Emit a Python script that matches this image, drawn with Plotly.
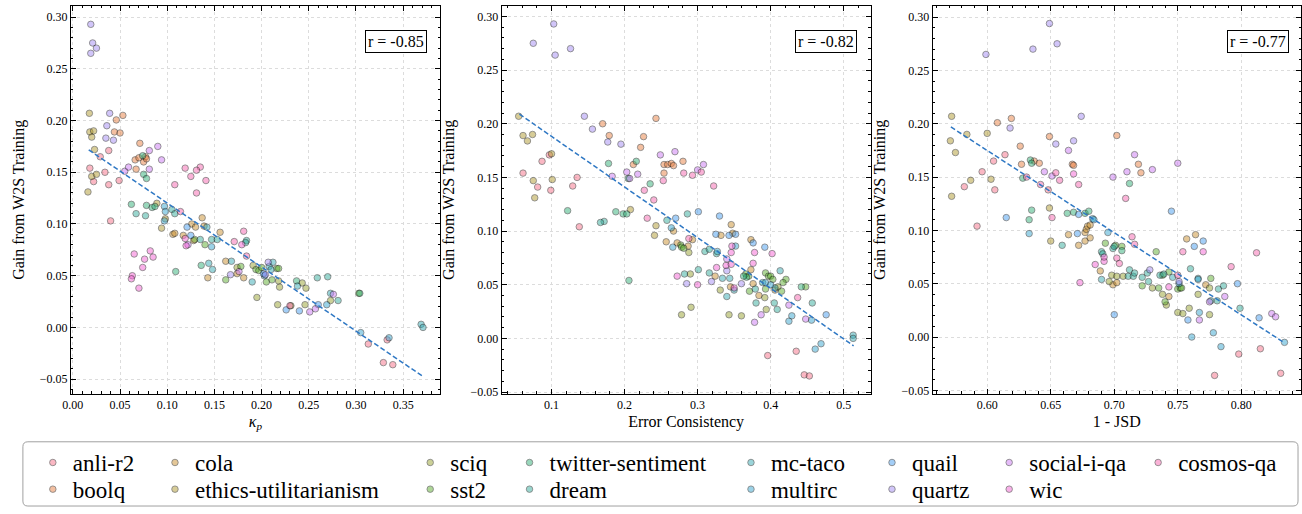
import plotly.graph_objects as go

# ---------------- data ----------------
datasets = ["anli-r2", "boolq", "cola", "ethics-utilitarianism", "sciq", "sst2",
            "twitter-sentiment", "dream", "mc-taco", "multirc", "quail", "quartz",
            "social-i-qa", "wic", "cosmos-qa"]

colors = ["#f77189", "#e98143", "#ca9131", "#b19b31", "#98a231", "#5fae31",
          "#33b07a", "#35ad9c", "#37abb4", "#39a7d0", "#4a9ff0", "#a48cf4",
          "#cc7af4", "#f564d4", "#f668b0"]

r_values = [-0.85, -0.82, -0.77]
x_titles = ["<i>κ<sub>p</sub></i>", "Error Consistency", "1 - JSD"]

# Panel 1: kappa_p vs gain
kappa_anli_r2 = [(0.038,0.171),(0.029,0.165),(0.018,0.154),(0.034,0.150),(0.022,0.141),(0.049,0.142),(0.038,0.138),(0.040,0.103),(0.313,-0.016),(0.333,-0.012),(0.329,-0.034),(0.339,-0.036)]
kappa_boolq = [(0.053,0.205),(0.046,0.2006),(0.044,0.189),(0.050,0.188),(0.071,0.178),(0.066,0.162),(0.070,0.164),(0.075,0.160),(0.077,0.165),(0.078,0.163),(0.067,0.153)]
kappa_cola = [(0.106,0.090),(0.108,0.091),(0.137,0.106),(0.126,0.100),(0.130,0.097),(0.139,0.098),(0.156,0.092),(0.117,0.089),(0.128,0.084),(0.143,0.048),(0.162,0.064),(0.174,0.052),(0.181,0.048)]
kappa_ethics = [(0.0175,0.207),(0.018,0.189),(0.022,0.190),(0.020,0.184),(0.023,0.172),(0.020,0.146),(0.025,0.148),(0.016,0.131),(0.089,0.120),(0.094,0.096),(0.098,0.105)]
kappa_sciq = [(0.195,0.029),(0.219,0.039),(0.217,0.022),(0.231,0.021),(0.243,0.043),(0.247,0.038),(0.246,0.022),(0.273,0.026),(0.174,0.058),(0.191,0.060),(0.218,0.045)]
kappa_sst2 = [(0.129,0.085),(0.140,0.080),(0.162,0.046),(0.178,0.059),(0.194,0.056),(0.197,0.055),(0.200,0.058),(0.205,0.044),(0.216,0.057),(0.218,0.057),(0.211,0.046),(0.303,0.033)]
kappa_twitter = [(0.074,0.166),(0.075,0.148),(0.078,0.144),(0.062,0.119),(0.078,0.118),(0.084,0.116),(0.087,0.117),(0.109,0.054),(0.136,0.060),(0.237,0.045),(0.304,0.033)]
kappa_dream = [(0.067,0.110),(0.077,0.108),(0.105,0.114),(0.108,0.110),(0.135,0.085),(0.147,0.085),(0.153,0.085),(0.259,0.048),(0.270,0.049),(0.281,0.026),(0.184,0.084),(0.183,0.082)]
kappa_mc_taco = [(0.142,0.097),(0.144,0.062),(0.148,0.056),(0.168,0.064),(0.190,0.044),(0.208,0.059),(0.210,0.056),(0.212,0.063),(0.238,0.040),(0.273,0.033),(0.369,0.003),(0.371,0.000)]
kappa_multirc = [(0.097,0.117),(0.098,0.112),(0.097,0.103),(0.147,0.078),(0.203,0.050),(0.305,-0.005),(0.335,-0.010),(0.269,0.022)]
kappa_quail = [(0.121,0.097),(0.125,0.089),(0.202,0.052),(0.226,0.017),(0.240,0.016),(0.260,0.022)]
kappa_quartz = [(0.019,0.293),(0.021,0.275),(0.025,0.270),(0.019,0.265),(0.039,0.207),(0.036,0.195),(0.035,0.183),(0.043,0.181),(0.167,0.051),(0.207,0.063),(0.204,0.051)]
kappa_social = [(0.090,0.175),(0.081,0.171),(0.094,0.162),(0.081,0.153),(0.055,0.151),(0.059,0.155),(0.176,0.054),(0.251,0.015),(0.257,0.018),(0.276,0.032),(0.122,0.080)]
kappa_wic = [(0.065,0.071),(0.076,0.066),(0.082,0.074),(0.085,0.068),(0.074,0.058),(0.070,0.038),(0.063,0.050),(0.062,0.047),(0.119,0.086),(0.120,0.079),(0.179,0.080)]
kappa_cosmos = [(0.119,0.154),(0.135,0.155),(0.131,0.152),(0.125,0.146),(0.141,0.142),(0.108,0.138),(0.131,0.130),(0.114,0.112),(0.181,0.093),(0.171,0.083),(0.184,0.069),(0.230,0.021)]

# Panel 2: error consistency vs gain
ec_anli_r2 = [(0.097,0.171),(0.087,0.165),(0.061,0.154),(0.135,0.150),(0.129,0.142),(0.081,0.141),(0.099,0.138),(0.138,0.104),(0.435,-0.012),(0.396,-0.016),(0.446,-0.034),(0.453,-0.035)]
ec_boolq = [(0.243,0.205),(0.170,0.200),(0.179,0.189),(0.226,0.188),(0.222,0.178),(0.280,0.165),(0.212,0.162),(0.254,0.162),(0.259,0.162),(0.264,0.163),(0.267,0.161),(0.254,0.154)]
ec_cola = [(0.346,0.106),(0.267,0.100),(0.332,0.096),(0.348,0.098),(0.373,0.092),(0.257,0.090),(0.272,0.089),(0.287,0.086),(0.293,0.092),(0.324,0.058),(0.345,0.048),(0.373,0.064),(0.376,0.051),(0.384,0.040),(0.406,0.045)]
ec_ethics = [(0.055,0.207),(0.061,0.189),(0.074,0.190),(0.067,0.184),(0.100,0.172),(0.101,0.148),(0.075,0.147),(0.077,0.131),(0.208,0.120),(0.241,0.096),(0.243,0.105)]
ec_sciq = [(0.288,0.080),(0.290,0.060),(0.331,0.045),(0.392,0.038),(0.278,0.022),(0.291,0.029),(0.343,0.022),(0.360,0.021),(0.394,0.027),(0.410,0.048)]
ec_sst2 = [(0.277,0.087),(0.278,0.085),(0.281,0.084),(0.366,0.060),(0.370,0.058),(0.393,0.061),(0.397,0.058),(0.400,0.058),(0.403,0.055),(0.421,0.055),(0.417,0.052),(0.371,0.044),(0.393,0.046),(0.415,0.044),(0.448,0.048)]
ec_twitter = [(0.216,0.165),(0.178,0.163),(0.235,0.144),(0.205,0.149),(0.122,0.119),(0.188,0.118),(0.198,0.116),(0.203,0.116),(0.206,0.054),(0.442,0.048),(0.367,0.057),(0.363,0.058)]
ec_dream = [(0.172,0.109),(0.167,0.108),(0.258,0.110),(0.286,0.116),(0.310,0.081),(0.316,0.083),(0.326,0.079),(0.301,0.064),(0.316,0.061),(0.282,0.060),(0.379,0.046),(0.380,0.033),(0.405,0.033),(0.457,0.033),(0.409,0.027)]
ec_mc_taco = [(0.334,0.056),(0.344,0.056),(0.350,0.045),(0.340,0.039),(0.389,0.052),(0.413,0.063),(0.406,0.047),(0.513,0.003),(0.513,0.000)]
ec_multirc = [(0.264,0.103),(0.266,0.085),(0.352,0.086),(0.327,0.081),(0.393,0.052),(0.400,0.050),(0.429,0.021),(0.425,0.016),(0.456,0.017),(0.469,-0.005),(0.461,-0.010)]
ec_quail = [(0.301,0.118),(0.330,0.114),(0.270,0.112),(0.325,0.097),(0.343,0.096),(0.352,0.097),(0.376,0.089),(0.392,0.085),(0.476,0.022)]
ec_quartz = [(0.103,0.293),(0.075,0.275),(0.126,0.270),(0.105,0.264),(0.145,0.207),(0.156,0.195),(0.177,0.183),(0.195,0.181),(0.340,0.063),(0.285,0.051),(0.319,0.053),(0.360,0.051)]
ec_social = [(0.269,0.174),(0.249,0.171),(0.308,0.162),(0.203,0.155),(0.218,0.153),(0.300,0.157),(0.183,0.151),(0.207,0.149),(0.340,0.074),(0.425,0.031),(0.387,0.022),(0.378,0.015),(0.448,0.018)]
ec_wic = [(0.346,0.080),(0.378,0.080),(0.339,0.068),(0.326,0.066),(0.376,0.070),(0.300,0.050),(0.272,0.058),(0.350,0.047),(0.347,0.086),(0.346,0.069),(0.402,0.079)]
ec_cosmos = [(0.281,0.154),(0.305,0.155),(0.293,0.152),(0.253,0.147),(0.322,0.142),(0.227,0.138),(0.240,0.129),(0.231,0.112),(0.288,0.093),(0.437,0.038)]

# Panel 3: 1 - JSD vs gain
jsd_anli_r2 = [(0.614,0.171),(0.605,0.165),(0.596,0.155),(0.582,0.141),(0.606,0.138),(0.648,0.138),(0.592,0.104),(0.779,-0.036),(0.798,-0.016),(0.815,-0.011),(0.831,-0.034)]
jsd_boolq = [(0.619,0.205),(0.608,0.201),(0.649,0.188),(0.702,0.189),(0.626,0.179),(0.637,0.165),(0.641,0.163),(0.627,0.162),(0.667,0.162),(0.668,0.161),(0.719,0.162),(0.721,0.154)]
jsd_cola = [(0.664,0.096),(0.672,0.086),(0.677,0.098),(0.678,0.101),(0.679,0.104),(0.681,0.105),(0.677,0.090),(0.681,0.093),(0.689,0.062),(0.699,0.049),(0.702,0.051),(0.743,0.038),(0.757,0.092),(0.764,0.096),(0.772,0.049)]
jsd_ethics = [(0.572,0.207),(0.584,0.190),(0.600,0.191),(0.571,0.184),(0.575,0.173),(0.603,0.148),(0.587,0.147),(0.572,0.132),(0.649,0.121),(0.650,0.090)]
jsd_sciq = [(0.696,0.052),(0.698,0.058),(0.702,0.057),(0.707,0.057),(0.730,0.046),(0.738,0.040),(0.741,0.030),(0.750,0.023),(0.754,0.022),(0.759,0.027),(0.766,0.040),(0.775,0.046),(0.775,0.021)]
jsd_sst2 = [(0.693,0.088),(0.701,0.086),(0.706,0.085),(0.733,0.080),(0.722,0.048),(0.735,0.046),(0.738,0.058),(0.743,0.061),(0.740,0.033),(0.750,0.045),(0.752,0.046),(0.753,0.046),(0.776,0.055)]
jsd_twitter = [(0.634,0.166),(0.635,0.163),(0.628,0.149),(0.712,0.144),(0.635,0.119),(0.633,0.110),(0.663,0.116),(0.668,0.117),(0.677,0.116),(0.680,0.118),(0.706,0.081)]
jsd_dream = [(0.659,0.086),(0.690,0.080),(0.691,0.078),(0.699,0.083),(0.700,0.085),(0.711,0.057),(0.712,0.063),(0.715,0.057),(0.716,0.060),(0.722,0.056),(0.726,0.060),(0.727,0.052),(0.736,0.058),(0.739,0.059),(0.760,0.064),(0.781,0.034),(0.782,0.045),(0.786,0.048),(0.799,0.027),(0.776,0.034)]
jsd_mc_taco = [(0.690,0.054),(0.746,0.056),(0.766,0.055)]
jsd_multirc = [(0.633,0.097),(0.683,0.111),(0.684,0.110),(0.695,0.098),(0.751,0.050),(0.766,0.054),(0.767,0.023),(0.778,0.004),(0.784,-0.009),(0.834,-0.005),(0.761,0.000)]
jsd_quail = [(0.615,0.112),(0.672,0.115),(0.671,0.097),(0.700,0.021),(0.745,0.118),(0.758,0.016),(0.763,0.085),(0.770,0.090),(0.797,0.050),(0.814,0.018)]
jsd_quartz = [(0.649,0.294),(0.655,0.275),(0.636,0.270),(0.599,0.265),(0.674,0.207),(0.618,0.196),(0.668,0.184),(0.654,0.181),(0.728,0.063),(0.751,0.052)]
jsd_social = [(0.664,0.175),(0.716,0.171),(0.750,0.163),(0.730,0.157),(0.710,0.155),(0.645,0.155),(0.651,0.151),(0.699,0.150),(0.767,0.016),(0.775,0.033),(0.787,0.038),(0.824,0.022),(0.827,0.019)]
jsd_wic = [(0.668,0.153),(0.685,0.068),(0.692,0.071),(0.692,0.075),(0.673,0.051),(0.743,0.047),(0.770,0.080)]
jsd_cosmos = [(0.654,0.154),(0.631,0.150),(0.657,0.147),(0.642,0.143),(0.672,0.143),(0.709,0.130),(0.651,0.112),(0.714,0.094),(0.716,0.087),(0.754,0.080),(0.792,0.066),(0.812,0.079),(0.750,0.058),(0.702,0.074),(0.704,0.069)]

# regression lines (end points)
fit_kappa_x = [0.0168, 0.371]
fit_kappa_y = [0.1717, -0.0474]
fit_ec_x = [0.056, 0.5136]
fit_ec_y = [0.209, -0.0069]
fit_jsd_x = [0.5714, 0.8338]
fit_jsd_y = [0.197, -0.0053]

panel_kappa = [kappa_anli_r2, kappa_boolq, kappa_cola, kappa_ethics, kappa_sciq, kappa_sst2, kappa_twitter,
               kappa_dream, kappa_mc_taco, kappa_multirc, kappa_quail, kappa_quartz, kappa_social, kappa_wic, kappa_cosmos]
panel_ec = [ec_anli_r2, ec_boolq, ec_cola, ec_ethics, ec_sciq, ec_sst2, ec_twitter,
            ec_dream, ec_mc_taco, ec_multirc, ec_quail, ec_quartz, ec_social, ec_wic, ec_cosmos]
panel_jsd = [jsd_anli_r2, jsd_boolq, jsd_cola, jsd_ethics, jsd_sciq, jsd_sst2, jsd_twitter,
             jsd_dream, jsd_mc_taco, jsd_multirc, jsd_quail, jsd_quartz, jsd_social, jsd_wic, jsd_cosmos]

# ---------------- layout geometry ----------------
W, H = 1302, 514
FONT = "Liberation Serif, Times New Roman, Times, DejaVu Serif, serif"
panels = [panel_kappa, panel_ec, panel_jsd]
fits = [(fit_kappa_x, fit_kappa_y), (fit_ec_x, fit_ec_y), (fit_jsd_x, fit_jsd_y)]
x_px = [(62.3, 434.0), (496.0, 867.7), (930.0, 1301.0)]
y_px = (6.0, 398.3)
x_ranges = [[-0.0021, 0.389], [0.0316, 0.537], [0.557, 0.847]]
y_ranges = [[-0.064, 0.3108], [-0.0515, 0.3098], [-0.0531, 0.3105]]
x_dticks = [0.05, 0.1, 0.05]
x_fmt = [".2f", ".1f", ".2f"]
r_box_px = [389.5, 823.0, 1258.0]

fig = go.Figure()

for p, data in enumerate(panels):
    sfx = "" if p == 0 else str(p + 1)
    for i, name in enumerate(datasets):
        pts = data[i]
        fig.add_trace(go.Scatter(
            x=[a for a, b in pts], y=[b for a, b in pts],
            mode="markers", name=name,
            xaxis="x" + sfx, yaxis="y" + sfx,
            marker=dict(size=6.5, color=colors[i], opacity=0.5,
                        line=dict(color="black", width=0.8)),
            showlegend=(p == 0),
            legend=("legend" if i == 0 else "legend" + str(i + 1)),
        ))
    fx, fy = fits[p]
    fig.add_trace(go.Scatter(x=fx, y=fy, mode="lines", xaxis="x" + sfx, yaxis="y" + sfx,
                             line=dict(color="#2f78c4", width=1.5, dash="5px,2.5px"),
                             showlegend=False, hoverinfo="skip"))

axis_common = dict(showline=True, linecolor="black", linewidth=1, mirror="allticks",
                   ticks="inside", ticklen=5, tickwidth=0.8, tickcolor="black",
                   showgrid=True, gridcolor="#dcdcdc", griddash="dot", gridwidth=0.8,
                   zeroline=False, tickfont=dict(family=FONT, size=12, color="black"))

layout = dict(width=W, height=H, margin=dict(l=0, r=0, t=0, b=0),
              paper_bgcolor="white", plot_bgcolor="white",
              font=dict(family=FONT, color="black"))

for p in range(3):
    sfx = "" if p == 0 else str(p + 1)
    xa = dict(axis_common)
    xa.update(domain=[x_px[p][0] / W, x_px[p][1] / W], range=x_ranges[p],
              dtick=x_dticks[p], tick0=0, tickformat=x_fmt[p],
              anchor="y" + sfx,
              minor=dict(ticks="inside", ticklen=2.5, tickcolor="black", dtick=0.01 if p != 1 else 0.02,
                         showgrid=False),
              title=dict(text=x_titles[p], font=dict(family=FONT, size=16), standoff=4))
    ya = dict(axis_common)
    ya.update(domain=[1 - y_px[1] / H, 1 - y_px[0] / H], range=y_ranges[p],
              dtick=0.05, tick0=0, tickformat=".2f", anchor="x" + sfx,
              minor=dict(ticks="inside", ticklen=2.5, tickcolor="black", dtick=0.01, showgrid=False),
              title=dict(text="Gain from W2S Training", font=dict(family=FONT, size=16), standoff=11))
    layout["xaxis" + sfx] = xa
    layout["yaxis" + sfx] = ya

# one legend per entry, arranged in matplotlib-style columns
col_marker_px = [45, 168, 425, 525, 748, 890, 1008, 1158]
row_px = [468, 495]
for i, name in enumerate(datasets):
    col, row = divmod(i, 2)
    key = "legend" if i == 0 else "legend" + str(i + 1)
    layout[key] = dict(x=(col_marker_px[col] - 21) / W, y=1 - row_px[row] / H,
                       xanchor="left", yanchor="middle", bgcolor="rgba(0,0,0,0)",
                       borderwidth=0, font=dict(family=FONT, size=23, color="black"),
                       itemwidth=30)

fig.update_layout(**layout)

# r annotations
for p in range(3):
    fig.add_annotation(x=r_box_px[p] / W, y=1 - 42 / H, xref="paper", yref="paper",
                       xanchor="center", yanchor="middle",
                       text=f"r = {r_values[p]:.2f}", showarrow=False,
                       font=dict(family=FONT, size=16, color="black"),
                       bgcolor="white", bordercolor="black", borderwidth=1, borderpad=2)

# legend frame (rounded rectangle)
x0, x1, y0, y1 = 14 / W, 1298 / W, 1 - 512 / H, 1 - 447 / H
rx, ry = 5 / W, 5 / H
path = (f"M {x0+rx},{y1} L {x1-rx},{y1} Q {x1},{y1} {x1},{y1-ry} L {x1},{y0+ry} "
        f"Q {x1},{y0} {x1-rx},{y0} L {x0+rx},{y0} Q {x0},{y0} {x0},{y0+ry} "
        f"L {x0},{y1-ry} Q {x0},{y1} {x0+rx},{y1} Z")
fig.add_shape(type="path", path=path, xref="paper", yref="paper",
              line=dict(color="#a0a0a0", width=1))

fig.write_html("out.html")
